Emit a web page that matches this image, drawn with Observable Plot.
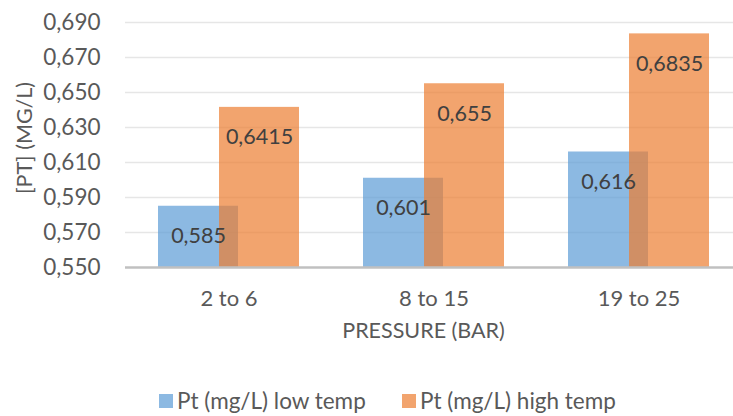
<!DOCTYPE html>
<html>
<head>
<meta charset="utf-8">
<script src="https://cdn.jsdelivr.net/npm/d3@7"></script>
<script src="https://cdn.jsdelivr.net/npm/@observablehq/plot@0.6"></script>
<style>
  body { margin: 0; background: #fff; font-family: Lato, "Open Sans", sans-serif; }
  #legend { display: flex; align-items: center; height: 31px; padding-left: 159px; font-size: 22.5px; color: #595959; }
  #legend .item { display: flex; align-items: center; white-space: nowrap; }
  #legend .item:first-child { width: 243px; }
  #legend .sw { width: 14px; height: 14px; margin-right: 4px; flex: none; }
</style>
</head>
<body>
<div id="chart"></div>
<div id="legend"></div>
<script>
// Pressure ranges on the x axis
const categories = ["2 to 6", "8 to 15", "19 to 25"];
// Platinum concentration (mg/L) per pressure range
const lowTemp = [0.585, 0.601, 0.616];
const highTemp = [0.6415, 0.655, 0.6835];
const seriesNames = ["Pt (mg/L) low temp", "Pt (mg/L) high temp"];
const seriesColors = ["#5B9BD5", "#ED7D31"];
// Value axis ticks
const yTicks = [0.55, 0.57, 0.59, 0.61, 0.63, 0.65, 0.67, 0.69];
const xTitle = "PRESSURE (BAR)";
const yTitle = "[PT] (MG/L)";

const yMin = yTicks[0];
const yMax = yTicks[yTicks.length - 1];
const decimalComma = (s) => String(s).replace(".", ",");
const tickFormat = (v) => decimalComma(d3.format(".3f")(v));

const low = categories.map((c, i) => ({cat: c, value: lowTemp[i]}));
const high = categories.map((c, i) => ({cat: c, value: highTemp[i]}));

const textColor = "#595959";
const labelColor = "#404040";

const chart = Plot.plot({
  width: 733,
  height: 385,
  marginLeft: 125,
  marginRight: 0,
  marginTop: 22,
  marginBottom: 118,
  style: {fontFamily: "Lato, 'Open Sans', sans-serif", background: "#fff", color: textColor},
  x: {domain: categories, range: [125, 742], padding: 0},
  y: {domain: [yMin, yMax], range: [267, 22]},
  marks: [
    Plot.ruleY(yTicks.slice(1), {stroke: "#e6e6e6", strokeWidth: 1.5}),
    Plot.barY(low, {x: "cat", y1: yMin, y2: "value", fill: seriesColors[0], fillOpacity: 0.7, insetLeft: 32, insetRight: 93}),
    Plot.barY(high, {x: "cat", y1: yMin, y2: "value", fill: seriesColors[1], fillOpacity: 0.7, insetLeft: 93, insetRight: 32}),
    Plot.ruleY([yMin], {stroke: "#c0c0c0", strokeWidth: 2.5}),
    Plot.text(low, {x: "cat", y: "value", text: (d) => decimalComma(d.value), dx: -30.5, dy: 30, fontSize: 21.5, fill: labelColor}),
    Plot.text(high, {x: "cat", y: "value", text: (d) => decimalComma(d.value), dx: 30.5, dy: 30, fontSize: 21.5, fill: labelColor}),
    Plot.axisY(yTicks, {tickSize: 0, tickPadding: 25, tickFormat, fontSize: 22.5, label: null, fill: textColor}),
    Plot.axisX({tickSize: 0, tickPadding: 23, fontSize: 22, label: null, fill: textColor}),
    Plot.text([xTitle], {frameAnchor: "bottom", dx: -6, dy: 70, fontSize: 21.5, fill: textColor}),
    Plot.text([yTitle], {frameAnchor: "left", textAnchor: "middle", rotate: -90, dx: -100, dy: -7, fontSize: 21.5, fill: textColor})
  ]
});
document.getElementById("chart").appendChild(chart);

const legend = d3.select("#legend");
seriesNames.forEach((name, i) => {
  const item = legend.append("div").attr("class", "item");
  item.append("div").attr("class", "sw").style("background", seriesColors[i]).style("opacity", 0.7);
  item.append("span").text(name);
});
</script>
</body>
</html>
